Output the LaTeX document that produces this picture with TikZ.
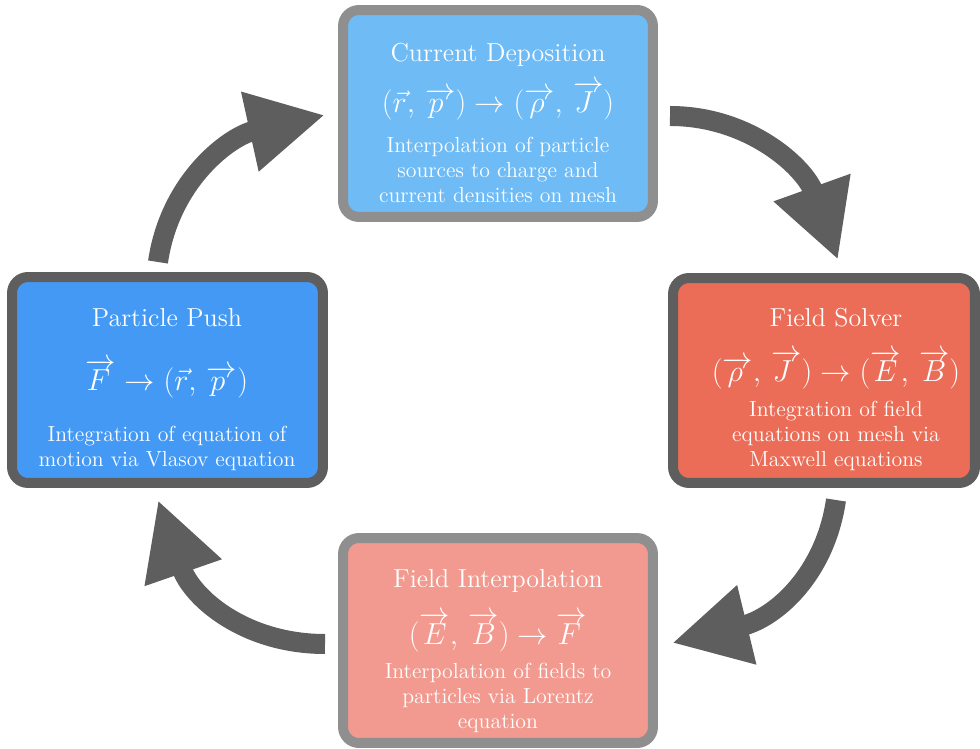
\documentclass[tikz,border=0pt]{standalone}
\usepackage{amsmath}
\usepackage{amssymb}
\usepackage{tikz}
\usetikzlibrary{arrows.meta, calc, positioning}
\tikzset{>=stealth}
\usepackage{xcolor}

\definecolor{depoblue}{RGB}{110,187,246}
\definecolor{pushblue}{RGB}{68,153,244}
\definecolor{solvered}{RGB}{235,109,87}
\definecolor{interpred}{RGB}{242,154,143}
\definecolor{lightframe}{RGB}{143,143,143}
\definecolor{darkframe}{RGB}{94,94,94}

\tikzset{
  stagebox/.style={draw, line width=0.2cm, rounded corners=0.32cm, inner sep=0pt},
  steptitle/.style={text=white, anchor=base, font=\fontsize{14.8}{17}\selectfont},
  stepmath/.style={text=white, anchor=base, font=\fontsize{19}{21}\selectfont},
  stepnote/.style={text=white, align=center, font=\fontsize{12.4}{14.2}\selectfont},
  flow/.style={line width=0.4cm, draw=darkframe, -{Triangle[length=1.54cm,width=1.52cm]}},
}

\begin{document}
\begin{tikzpicture}[x=0.02cm, y=-0.02cm]
			\useasboundingbox (0,0) rectangle (980,749);
			% the four stages
			\node[stagebox, draw=lightframe, fill=depoblue, minimum width=6.2cm, minimum height=4.14cm] (depo) at (498,113.5) {};
			\node[stagebox, draw=darkframe, fill=solvered, minimum width=6.04cm, minimum height=4.1cm] (solver) at (824,380.5) {};
			\node[stagebox, draw=lightframe, fill=interpred, minimum width=6.2cm, minimum height=4.1cm] (interp) at (498,640.5) {};
			\node[stagebox, draw=darkframe, fill=pushblue, minimum width=6.22cm, minimum height=4.12cm] (push) at (167.5,380) {};
			% texts
			\node[steptitle] (depo-t) at (498,62) {Current Deposition};
			\node[stepmath] (depo-m) at (498,113) {$(\vec{r},\, \overrightarrow{p\;})\rightarrow(\overrightarrow{\rho\,},\, \overrightarrow{J\;})$};
			\node[stepnote] (depo-n) at (498,170) {Interpolation of particle\\sources to charge and\\current densities on mesh};
			\node[steptitle] (solver-t) at (836,327) {Field Solver};
			\node[stepmath] (solver-m) at (836,382) {$(\overrightarrow{\rho\,},\, \overrightarrow{J\;})\rightarrow(\overrightarrow{E},\, \overrightarrow{B})$};
			\node[stepnote] (solver-n) at (836,436) {Integration of field\\equations on mesh via\\Maxwell equations};
			\node[steptitle] (interp-t) at (498,587) {Field Interpolation};
			\node[stepmath] (interp-m) at (498,644) {$(\overrightarrow{E},\, \overrightarrow{B})\rightarrow\overrightarrow{F\,}$};
			\node[stepnote] (interp-n) at (498,698) {Interpolation of fields to\\particles via Lorentz\\equation};
			\node[steptitle] (push-t) at (167,327) {Particle Push};
			\node[stepmath] (push-m) at (167,391) {$\overrightarrow{F\,}\rightarrow(\vec{r},\, \overrightarrow{p\;})$};
			\node[stepnote] (push-n) at (167,448.5) {Integration of equation of\\motion via Vlasov equation};
			% arrow ends
			\coordinate (push-out) at (158,262);
			\coordinate (depo-in) at (325,115);
			\coordinate (depo-out) at (670,116);
			\coordinate (solver-in) at (838,260);
			\coordinate (solver-out) at (836,500);
			\coordinate (interp-in) at (672,643);
			\coordinate (interp-out) at (325,644);
			\coordinate (push-in) at (158,500);
			\draw[flow] (push-out) .. controls (170,180) and (230,136) .. (depo-in);
			\draw[flow] (depo-out) .. controls (750,116) and (805,168) .. (solver-in);
			\draw[flow] (solver-out) .. controls (825,575) and (775,618) .. (interp-in);
			\draw[flow] (interp-out) .. controls (245,644) and (192,598) .. (push-in);
		\end{tikzpicture}
\end{document}
